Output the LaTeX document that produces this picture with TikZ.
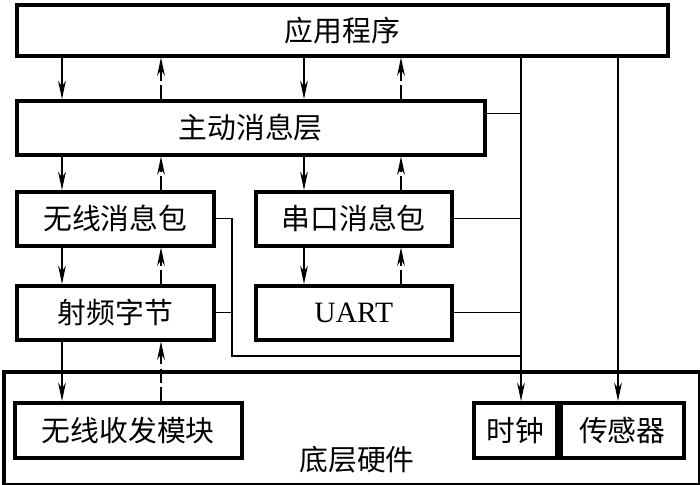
\documentclass[tikz,border=0pt]{standalone}
\usepackage{fontspec}
\setmainfont{Liberation Serif}
\newfontfamily\cjk{Noto Sans CJK SC}
\usetikzlibrary{arrows.meta}
\usetikzlibrary{calc}
\tikzset{
    block/.style={draw, line width=2.5pt, anchor=north west, inner sep=0pt,
        font=\fontsize{20.5}{24}\selectfont\cjk},
    wire/.style={line width=0.8pt},
    down/.style={wire, -{Stealth[length=13pt, width=5.5pt, inset=4pt]}},
    up/.style={down, dash pattern=on 10pt off 3pt},
}

\begin{document}
\begin{tikzpicture}[x=0.025cm, y=-0.025cm]
        \useasboundingbox (0,0) rectangle (700,485);
        % columns
        \coordinate (c1) at (62,0);
        \coordinate (c2) at (161,0);
        \coordinate (c3) at (304,0);
        \coordinate (c4) at (401,0);
        \coordinate (c5) at (521,0);
        \coordinate (c6) at (618,0);
        \coordinate (c7) at (232,0);
        \coordinate (bus) at (232,356);
        % software layers
        \node[block, minimum width=651*0.025cm, minimum height=51*0.025cm] (app) at (15,3) {应用程序};
        \node[block, minimum width=468*0.025cm, minimum height=54*0.025cm] (ams) at (15,99) {主动消息层};
        \node[block, minimum width=197*0.025cm, minimum height=54*0.025cm] (wmsg) at (15,190) {无线消息包};
        \node[block, minimum width=196*0.025cm, minimum height=54*0.025cm] (smsg) at (254,190) {串口消息包};
        \node[block, minimum width=197*0.025cm, minimum height=54*0.025cm] (rf) at (15,284) {射频字节};
        \node[block, minimum width=196*0.025cm, minimum height=54*0.025cm,
            font=\fontsize{21}{24}\selectfont\rmfamily] (uart) at (254,284) {UART};
        % hardware
        \node[block, minimum width=696*0.025cm, minimum height=113*0.025cm] (hw) at (2,370) {};
        \node[font=\fontsize{20.5}{24}\selectfont\cjk] (hwtext) at (357,460) {底层硬件};
        \node[block, minimum width=227*0.025cm, minimum height=55*0.025cm] (radio) at (13,401) {无线收发模块};
        \node[block, minimum width=83*0.025cm, minimum height=55*0.025cm] (clock) at (472,401) {时钟};
        \node[block, minimum width=123*0.025cm, minimum height=55*0.025cm] (sensor) at (559,401) {传感器};
        % arrows
        \foreach \hi/\lo/\dn/\up in {app/ams/c1/c2, app/ams/c3/c4, ams/wmsg/c1/c2,
            ams/smsg/c3/c4, wmsg/rf/c1/c2, smsg/uart/c3/c4, rf/radio/c1/c2}
        {
            \draw[down] (\hi.south -| \dn) -- (\lo.north -| \dn);
            \draw[up] (\lo.north -| \up) -- (\hi.south -| \up);
        }
        \draw[down] (app.south -| c5) -- (clock.north -| c5);
        \draw[down] (app.south -| c6) -- (sensor.north -| c6);
        % wires
        \coordinate (amsout) at ($(ams.north east)!0.25!(ams.south east)$);
        \draw[wire] (amsout) -- (amsout -| c5);
        \draw[wire] (smsg.east) -- (smsg.east -| c5);
        \draw[wire] (uart.east) -- (uart.east -| c5);
        \draw[wire] (wmsg.east) -- (wmsg.east -| c7) -- (bus) -- (bus -| c5);
        \draw[wire] (rf.east) -- (rf.east -| c7);
    \end{tikzpicture}
\end{document}
